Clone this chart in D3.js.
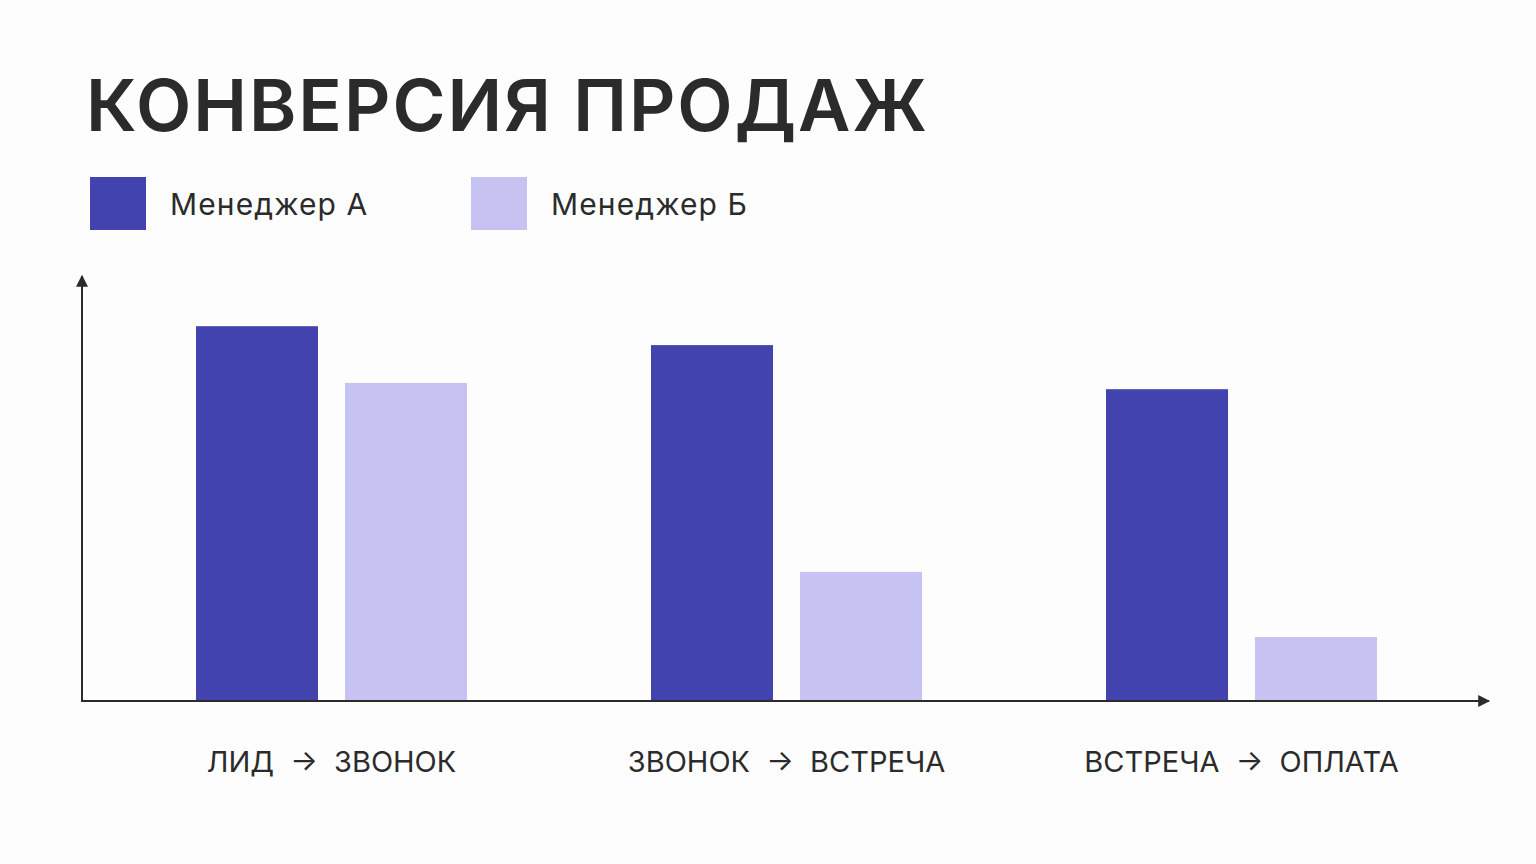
<!DOCTYPE html>
<html>
<head>
<meta charset="utf-8">
<script src="https://cdn.jsdelivr.net/npm/d3@7"></script>
<style>
  body { margin: 0; background: #fdfdfd; }
  svg { display: block; }
</style>
</head>
<body>
<svg id="chart" width="1536" height="864"></svg>
<script>
// stages of the funnel
const stages = ["ЛИД → ЗВОНОК", "ЗВОНОК → ВСТРЕЧА", "ВСТРЕЧА → ОПЛАТА"]
const managers = ["Менеджер А", "Менеджер Б"]
// conversion, % (axis has no ticks)
const managerA = [89, 84.5, 74]
const managerB = [75.5, 30.5, 15]
const colors = ["#4343b0", "#c6c3f2"]

const svg = d3.select("#chart")
const ink = "#2b2b2b"

// plot area
const x0 = 82, yBase = 700
const x = d3.scaleBand().domain(stages).range([104, 1469]).padding(0)
const y = d3.scaleLinear().domain([0, 100]).range([yBase, 280])

svg.append("rect").attr("width", 1536).attr("height", 864).attr("fill", "#fdfdfd")

// title
svg.append("text")
  .attr("x", 86)
  .attr("y", 131)
  .attr("font-family", "Inter, 'Noto Sans', sans-serif")
  .attr("font-weight", 600)
  .attr("font-size", 72)
  .attr("letter-spacing", 2)
  .attr("fill", ink)
  .text("КОНВЕРСИЯ ПРОДАЖ")

// legend
const legend = svg.append("g")
managers.forEach((m, i) => {
  let lx = i == 0 ? 90 : 471
  legend.append("rect")
    .attr("x", lx).attr("y", 177)
    .attr("width", 56).attr("height", 53)
    .attr("fill", colors[i])
  legend.append("text")
    .attr("x", lx + 80).attr("y", 215)
    .attr("font-family", "Inter, 'Noto Sans', sans-serif")
    .attr("font-size", 30)
    .attr("letter-spacing", 1.1)
    .attr("fill", ink)
    .text(m)
})

// bars
const table = stages.map((s, i) => ({ stage: s, values: [managerA[i], managerB[i]] }))

table.forEach(d => {
  let c = x(d.stage) + x.bandwidth() / 2
  let x1 = d3.scaleBand().domain([0, 1]).range([c - 135.5, c + 135.5]).paddingInner(0.181)
  svg.append("g")
    .selectAll("rect")
    .data(d.values)
    .join("rect")
    .attr("x", (v, j) => x1(j))
    .attr("y", v => y(v))
    .attr("width", x1.bandwidth())
    .attr("height", v => yBase - y(v))
    .attr("fill", (v, j) => colors[j])
})

// axes with arrows
svg.append("defs").append("marker")
  .attr("id", "arrow")
  .attr("viewBox", "0 0 10 10")
  .attr("refX", 9).attr("refY", 5)
  .attr("markerWidth", 12).attr("markerHeight", 12)
  .attr("markerUnits", "userSpaceOnUse")
  .attr("orient", "auto")
  .append("path")
  .attr("d", "M0,0 L10,5 L0,10 Z")
  .attr("fill", ink)

svg.append("line")
  .attr("x1", x0).attr("y1", yBase + 1)
  .attr("x2", x0).attr("y2", 276)
  .attr("stroke", ink).attr("stroke-width", 2)
  .attr("marker-end", "url(#arrow)")

svg.append("line")
  .attr("x1", x0 - 1).attr("y1", yBase + 1)
  .attr("x2", 1489).attr("y2", yBase + 1)
  .attr("stroke", ink).attr("stroke-width", 2)
  .attr("marker-end", "url(#arrow)")

// category labels
const xAxis = d3.axisBottom(x).tickSize(0).tickPadding(0)
const gx = svg.append("g")
  .attr("transform", `translate(0,${yBase})`)
  .call(xAxis)
gx.select(".domain").remove()
gx.selectAll("text")
  .attr("y", 72)
  .attr("dy", 0)
  .attr("font-family", "Inter, 'Noto Sans', sans-serif")
  .attr("font-size", 29)
  .attr("fill", ink)
  .attr("word-spacing", 8)
</script>
</body>
</html>
